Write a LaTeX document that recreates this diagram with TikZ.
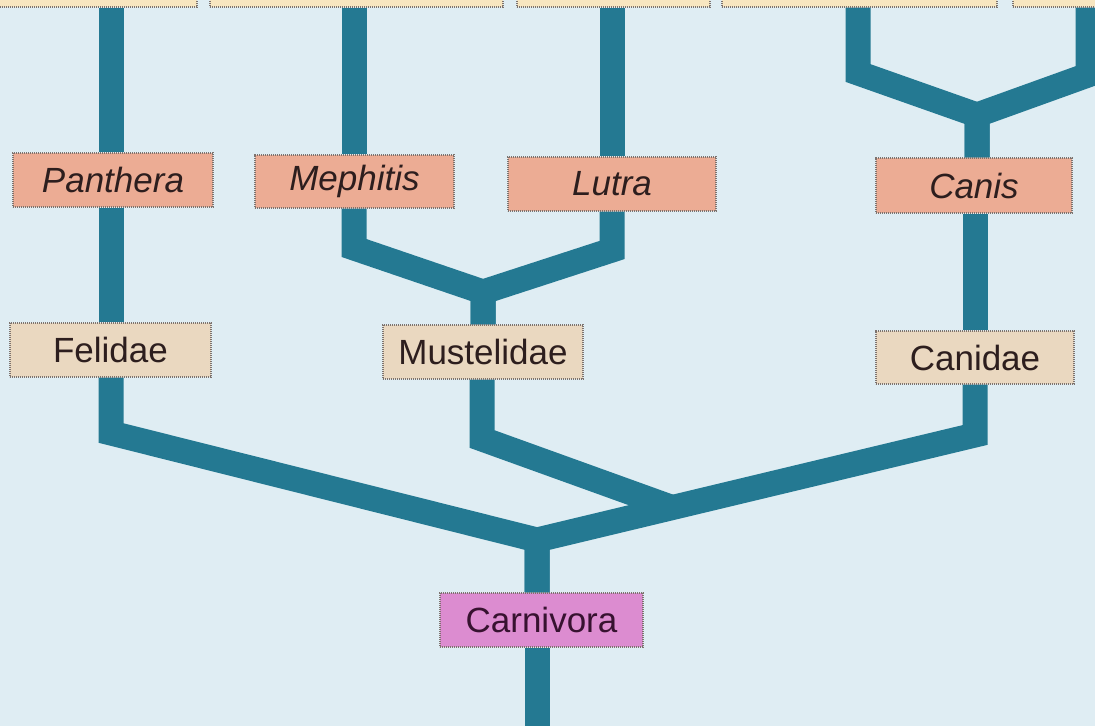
\documentclass[tikz,border=0pt]{standalone}
\usepackage{fontspec}
\setmainfont{Liberation Sans}
\usetikzlibrary{backgrounds}
\definecolor{bgcol}{RGB}{223,237,243}
\definecolor{branchcol}{RGB}{36,121,146}
\definecolor{salmoncol}{RGB}{236,172,148}
\definecolor{tancol}{RGB}{234,216,192}
\definecolor{orchidcol}{RGB}{220,140,208}
\definecolor{creamcol}{RGB}{248,230,192}
\definecolor{boxline}{RGB}{125,115,110}
\definecolor{txtcol}{RGB}{45,30,30}
\definecolor{txtpurple}{RGB}{55,18,48}
\begin{document}
\begin{tikzpicture}[x=1pt,y=-1pt,
  box/.style={draw=boxline, line width=1.2pt, dash pattern=on 1.2pt off 0.8pt,
    inner sep=0pt, text=txtcol, font=\fontsize{35}{40}\selectfont},
  genus/.style={box, fill=salmoncol, font=\fontsize{35}{40}\selectfont\itshape},
  family/.style={box, fill=tancol},
  order/.style={box, fill=orchidcol, text=txtpurple},
  topbox/.style={box, fill=creamcol},
  branch/.style={draw=branchcol, line width=25pt, line join=miter, line cap=butt}]
\useasboundingbox (0,0) rectangle (1095,726);

% partially visible boxes at the top edge
\node[topbox, minimum width=207pt, minimum height=14pt] (top1) at (93.5,0) {};
\node[topbox, minimum width=293pt, minimum height=14pt] (top2) at (356.5,0) {};
\node[topbox, minimum width=193pt, minimum height=14pt] (top3) at (613.5,0) {};
\node[topbox, minimum width=275pt, minimum height=14pt] (top4) at (859.5,0) {};
\node[topbox, minimum width=100pt, minimum height=14pt] (top5) at (1063,0) {};

% genera
\node[genus, minimum width=200pt, minimum height=54pt] (panthera) at (113,180) {Panthera};
\node[genus, minimum width=199pt, minimum height=53pt] (mephitis) at (354.5,181.5) {Mephitis};
\node[genus, minimum width=208pt, minimum height=54pt] (lutra) at (612,184) {Lutra};
\node[genus, minimum width=196pt, minimum height=55pt] (canis) at (974,185.5) {Canis};

% families
\node[family, minimum width=201pt, minimum height=54pt] (felidae) at (110.5,350) {Felidae};
\node[family, minimum width=200pt, minimum height=54pt] (mustelidae) at (483,352) {Mustelidae};
\node[family, minimum width=198pt, minimum height=53pt] (canidae) at (975,357.5) {Canidae};

% order
\node[order, minimum width=203pt, minimum height=54pt] (carnivora) at (541.5,620) {Carnivora};

% branch points
\coordinate (pc) at (111,433);
\coordinate (J) at (537,540);
\coordinate (mc1) at (354,248);
\coordinate (M) at (483,292);
\coordinate (lc1) at (612,250);
\coordinate (muc) at (482,439);
\coordinate (mue) at (672,507.5);
\coordinate (cc) at (975,435);
\coordinate (tc1) at (858,73);
\coordinate (C) at (977,115);
\coordinate (tc2) at (1088,75);
\coordinate (bot) at (537,726);

\begin{scope}[on background layer]
\fill[bgcol] (0,0) rectangle (1095,726);
% Panthera / Felidae lineage
\draw[branch] (top1.south -| pc) -- (panthera.north -| pc);
\draw[branch] (panthera.south -| pc) -- (felidae.north -| pc);
\draw[branch] (felidae.south -| pc) -- (pc) -- (J) -- (carnivora.north -| J);
% Mephitis / Lutra / Mustelidae
\draw[branch] (top2.south -| mc1) -- (mephitis.north -| mc1);
\draw[branch] (top3.south -| lc1) -- (lutra.north -| lc1);
\draw[branch] (mephitis.south -| mc1) -- (mc1) -- (M) -- (mustelidae.north -| M);
\draw[branch] (lutra.south -| lc1) -- (lc1) -- (M) -- (mustelidae.north -| M);
\draw[branch] (mustelidae.south -| muc) -- (muc) -- (mue);
% Canis / Canidae
\draw[branch] (top4.south -| tc1) -- (tc1) -- (C) -- (canis.north -| C);
\draw[branch] (top5.south -| tc2) -- (tc2) -- (C) -- (canis.north -| C);
\draw[branch] (canis.south -| cc) -- (canidae.north -| cc);
\draw[branch] (canidae.south -| cc) -- (cc) -- (J) -- (carnivora.north -| J);
% stem below Carnivora
\draw[branch] (carnivora.south -| J) -- (bot);
\end{scope}
\end{tikzpicture}
\end{document}
